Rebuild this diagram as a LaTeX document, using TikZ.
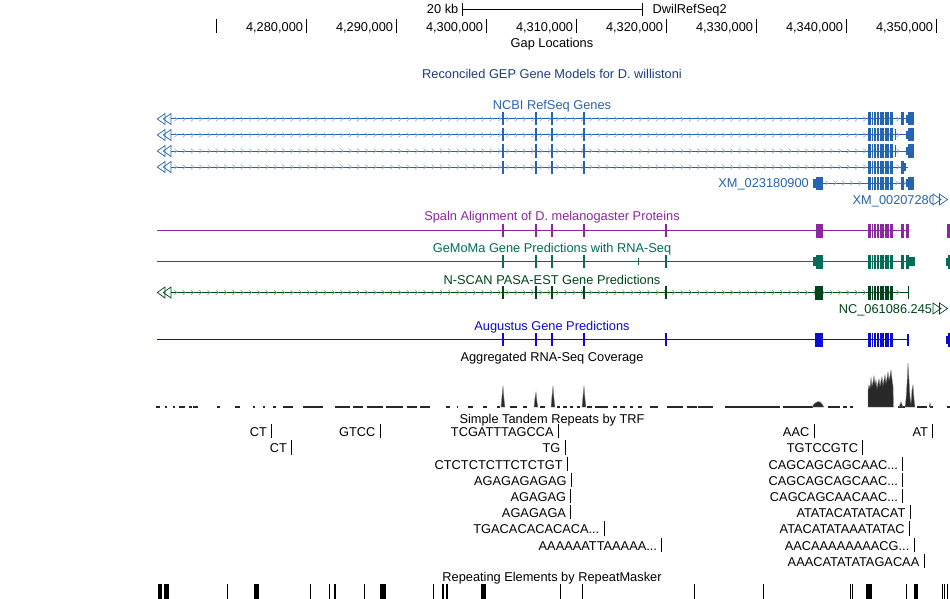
\documentclass[tikz,border=0pt]{standalone}
\usepackage{fontspec}
\setmainfont{Liberation Sans}
\definecolor{gepnavy}{RGB}{30,62,122}
\definecolor{ncbi}{RGB}{38,100,175}
\definecolor{ncbilt}{RGB}{135,172,222}
\definecolor{spaln}{RGB}{138,40,158}
\definecolor{gemoma}{RGB}{0,108,90}
\definecolor{nscan}{RGB}{0,68,28}
\definecolor{nscanlt}{RGB}{95,175,105}
\definecolor{augus}{RGB}{12,12,204}
\definecolor{covdark}{RGB}{40,40,40}
\definecolor{covlt}{RGB}{135,135,135}
\tikzset{
  lbl/.style={inner sep=0pt, font=\fontsize{12.8}{14}\selectfont},
  gline/.style={line width=1pt},
  chevron/.style={line width=0.6pt},
}
\newcommand\gepclus[3]{% y, half height, colour
  \foreach \a/\b in {867.5/870.5,871.5/873,874/875.5,876.5/879,880/884,885/888.5,889.5/893}{\fill[#3] (\a,#1-#2) rectangle (\b,#1+#2);}}
\newcommand\gepex[5]{% x1,x2,y,h,colour
  \fill[#5] (#1,#3-#4) rectangle (#2,#3+#4);}
\newcommand\gepchev[4]{% y, from, second, to
  \foreach \x in {#2,#3,...,#4}{\draw[chevron] (\x-1.6,#1-2.3) -- (\x+0.9,#1) -- (\x-1.6,#1+2.3);}}
\newcommand\gepltri[2]{% y, colour
  \draw[#2, line width=0.7pt] (157.3,#1) -- (165,#1-5.5) -- (165,#1+5.5) -- cycle;
  \draw[#2, line width=0.7pt] (163.3,#1) -- (171,#1-5.5) -- (171,#1+5.5) -- cycle;}
\newcommand\geprtri[2]{% y, colour
  \fill[white] (933,#1-5.5) -- (947.5,#1) -- (933,#1+5.5) -- cycle;
  \draw[#2, line width=0.7pt] (933,#1-5.5) -- (941,#1) -- (933,#1+5.5) -- cycle;
  \draw[#2, line width=0.7pt] (939.5,#1-5.5) -- (947.5,#1) -- (939.5,#1+5.5) -- cycle;}
\newcommand\geptrf[4]{% name, text, bar x, baseline
  \node[lbl, anchor=base east] (#1) at (#3-4.5,#4) {#2};
  \draw[line width=1pt] (#3,#4-12.5) -- (#3,#4+1.8);}
\begin{document}
\begin{tikzpicture}[x=1pt,y=-1pt]
\fill[white] (0,0) rectangle (950,599);
\useasboundingbox (0,0) rectangle (950,599);

% ---------- scale bar and ruler
\node[lbl, anchor=base east] (kb) at (458.5,14) {20 kb};
\coordinate (sbL) at (462.3,9.3);
\coordinate (sbR) at (642,9.3);
\draw[line width=1pt] (sbL) -- (sbR);
\draw[line width=1pt] (462.3,3) -- (462.3,16.5);
\draw[line width=1pt] (642,3) -- (642,16.5);
\node[lbl, anchor=base west] (asm) at (652.5,14) {DwilRefSeq2};
\foreach \i in {0,...,8}{\draw[line width=1pt] ({216.7+90*\i},19) -- ({216.7+90*\i},33.5);}
\node[lbl, anchor=base east] (r1) at (303.2,31.8) {4,280,000};
\node[lbl, anchor=base east] (r2) at (393.2,31.8) {4,290,000};
\node[lbl, anchor=base east] (r3) at (483.2,31.8) {4,300,000};
\node[lbl, anchor=base east] (r4) at (573.2,31.8) {4,310,000};
\node[lbl, anchor=base east] (r5) at (663.2,31.8) {4,320,000};
\node[lbl, anchor=base east] (r6) at (753.2,31.8) {4,330,000};
\node[lbl, anchor=base east] (r7) at (843.2,31.8) {4,340,000};
\node[lbl, anchor=base east] (r8) at (933.2,31.8) {4,350,000};
\node[lbl, anchor=base] (gap) at (552,47.5) {Gap Locations};

% ---------- titles
\node[lbl, anchor=base, text=gepnavy] (gep) at (552,78.5) {Reconciled GEP Gene Models for D. willistoni};
\node[lbl, anchor=base, text=ncbi] (ncbil) at (552,110) {NCBI RefSeq Genes};

% ---------- NCBI rows 1-4
\foreach \y in {119,135,151,167}{
  \draw[ncbi, gline] (171,\y) -- (907.5,\y);
  \begin{scope}[ncbilt]\gepchev{\y}{176}{184.3}{905}\end{scope}
  \gepltri{\y}{ncbi}
  \foreach \t in {503,536,552}{\gepex{\t-0.7}{\t+0.7}{\y}{6.5}{ncbi}}
  \gepex{583}{585}{\y}{6.5}{ncbi}
  \gepclus{\y}{6.5}{ncbi}
}
% row specific ends
\gepex{900.5}{903.5}{119}{6.5}{ncbi}
\gepex{906}{907.5}{119}{4}{ncbi}
\gepex{907.5}{914}{119}{6.5}{ncbi}
\foreach \y in {135,151}{
  \gepex{895.3}{896.3}{\y}{5.5}{ncbi}
  \gepex{906}{907.5}{\y}{4}{ncbi}
  \gepex{907.5}{914}{\y}{6.5}{ncbi}
}
\gepex{900.5}{903.5}{167}{6.5}{ncbi}
\gepex{903.5}{906}{167}{4}{ncbi}
% row 5
\draw[ncbi, gline] (822.5,183) -- (907.5,183);
\begin{scope}[ncbilt]\gepchev{183}{827}{835.3}{864}\gepchev{183}{897}{905}{905}\end{scope}
\gepex{813}{816}{183}{4.5}{ncbi}
\gepex{816}{822.5}{183}{6.5}{ncbi}
\gepclus{183}{6.5}{ncbi}
\gepex{900.5}{903.5}{183}{6.5}{ncbi}
\gepex{906}{907.5}{183}{4}{ncbi}
\gepex{907.5}{914}{183}{6.5}{ncbi}
\node[lbl, anchor=base east, text=ncbi] (xm1) at (809,187.6) {XM\_023180900};
\node[lbl, anchor=base west, text=ncbi] (xm2) at (852.5,204) {XM\_00207280};
\geprtri{199.5}{ncbi}

% ---------- Spaln
\node[lbl, anchor=base, text=spaln] (spl) at (552,220.5) {Spaln Alignment of D. melanogaster Proteins};
\draw[spaln, gline] (157,230.5) -- (908,230.5);
\foreach \t in {503,536,552,584,666}{\gepex{\t-0.7}{\t+0.7}{230.5}{6.5}{spaln}}
\gepex{816}{822.7}{230.5}{7}{spaln}
\gepclus{230.5}{7}{spaln}
\gepex{900.5}{903.5}{230.5}{7}{spaln}
\gepex{906}{908.5}{230.5}{7}{spaln}
\gepex{946.5}{950}{230.5}{7}{spaln}

% ---------- GeMoMa
\node[lbl, anchor=base, text=gemoma] (gmm) at (552,252) {GeMoMa Gene Predictions with RNA-Seq};
\draw[gemoma, gline] (157,261.5) -- (908,261.5);
\foreach \t in {503,536,552,584,666}{\gepex{\t-0.7}{\t+0.7}{261.5}{6.5}{gemoma}}
\gepex{637.5}{638.7}{261.5}{3.5}{gemoma}
\gepex{812.5}{816}{261.5}{4.5}{gemoma}
\gepex{816}{822.7}{261.5}{7}{gemoma}
\gepclus{261.5}{7}{gemoma}
\gepex{900.5}{903.5}{261.5}{7}{gemoma}
\gepex{906}{908.5}{261.5}{7}{gemoma}
\gepex{908.5}{915}{261.5}{4.5}{gemoma}
\gepex{946}{947.5}{261.5}{4}{gemoma}
\gepex{947.5}{950}{261.5}{7}{gemoma}

% ---------- N-SCAN
\node[lbl, anchor=base, text=nscan] (nsc) at (552,284) {N-SCAN PASA-EST Gene Predictions};
\draw[nscan, gline] (171,292.5) -- (908.5,292.5);
\begin{scope}[nscanlt]\gepchev{292.5}{176}{184.3}{905}\end{scope}
\gepltri{292.5}{nscan}
\foreach \t in {503,536,552,584,666}{\gepex{\t-0.7}{\t+0.7}{292.5}{6.5}{nscan}}
\gepex{815}{822.7}{292.5}{7}{nscan}
\gepclus{292.5}{7}{nscan}
\gepex{907.6}{908.8}{292.5}{6.5}{nscan}
\node[lbl, anchor=base east, text=nscan] (ncl) at (932.3,313) {NC\_061086.245};
\geprtri{308.5}{nscan}

% ---------- Augustus
\node[lbl, anchor=base, text=augus] (aug) at (552,330.5) {Augustus Gene Predictions};
\draw[augus, gline] (157,339.5) -- (908,339.5);
\foreach \t in {503,536,552,584,666}{\gepex{\t-0.7}{\t+0.7}{339.5}{6.5}{augus}}
\gepex{815}{822.7}{339.5}{7}{augus}
\gepclus{339.5}{7}{augus}
\gepex{907.3}{909.3}{339.5}{6}{augus}
\gepex{946}{947.5}{339.5}{4}{augus}
\gepex{947.5}{950}{339.5}{7}{augus}

% ---------- RNA-Seq coverage
\node[lbl, anchor=base] (cov) at (552,361.5) {Aggregated RNA-Seq Coverage};
\foreach \a/\b in {156/160,165/167,173/175,179/185,189/192,193/198,217/220,235/240,253/255,263/265,273/276,283/293,303/323,335/350,353/363,367/383,386/403,407/417,420/430,446/450,457/458,468/473,483/487,497/500,510/517,523/527,540/545,557/560,563/567,570/573,577/580,587/592,595/608,613/617,620/625,630/633,638/642,650/658,667/683,687/697,698/713,725/780,783/813,828/840,843/847,850/853,898/905,917/927,930/933,947/950}{\fill[covdark] (\a,406) rectangle (\b,408);}
\foreach \p in {503,553,584}{\fill[covdark,draw=covlt,line width=0.4pt] (\p-2,407) -- (\p-1,396) -- (\p,386) -- (\p+1,399) -- (\p+2,407) -- cycle;}
\fill[covdark,draw=covlt,line width=0.4pt] (534,407) -- (535,398) -- (536,392) -- (537,402) -- (538,407) -- cycle;
\fill[covdark,draw=covlt,line width=0.4pt] (812,407) -- (814,404) -- (816,402.5) -- (818,401.5) -- (820,402) -- (822,404) -- (824,407) -- cycle;
\fill[covdark,draw=covlt,line width=0.4pt] (868,407) -- (868,390) -- (869,385) -- (870,388) -- (871,378) -- (872,386) -- (873,382) -- (874,376) -- (875,384) -- (876,380) -- (877,388) -- (878,383) -- (879,379) -- (880,386) -- (881,381) -- (882,377) -- (883,385) -- (884,380) -- (885,375) -- (886,383) -- (887,378) -- (888,372) -- (889,380) -- (890,376) -- (891,370) -- (892,379) -- (893,386) -- (893.5,407) -- cycle;
\fill[covdark,draw=covlt,line width=0.4pt] (899,407) -- (901,402) -- (903,407) -- cycle;
\fill[covdark,draw=covlt,line width=0.4pt] (905,407) -- (906,399) -- (907,384) -- (908,363) -- (909,380) -- (910,397) -- (911,404) -- (912,390) -- (913,385) -- (914,399) -- (915,407) -- cycle;
\fill[covdark,draw=covlt,line width=0.4pt] (929,407) -- (930,403) -- (931,407) -- cycle;

% ---------- Simple tandem repeats
\node[lbl, anchor=base] (trfl) at (552,423.3) {Simple Tandem Repeats by TRF};
\geptrf{t1}{CT}{271.7}{436.5}
\geptrf{t2}{GTCC}{380}{436.5}
\geptrf{t3}{TCGATTTAGCCA}{558.3}{436.5}
\geptrf{t4}{AAC}{814}{436.5}
\geptrf{t5}{AT}{932.7}{436.5}
\geptrf{t6}{CT}{291.7}{452.7}
\geptrf{t7}{TG}{565}{452.7}
\geptrf{t8}{TGTCCGTC}{862.7}{452.7}
\geptrf{t9}{CTCTCTCTTCTCTGT}{567.3}{469}
\geptrf{t10}{CAGCAGCAGCAAC...}{902.7}{469}
\geptrf{t11}{AGAGAGAGAG}{571.2}{485.2}
\geptrf{t12}{CAGCAGCAGCAAC...}{902.7}{485.2}
\geptrf{t13}{AGAGAG}{570.7}{501.4}
\geptrf{t14}{CAGCAGCAACAAC...}{902.7}{501.4}
\geptrf{t15}{AGAGAGA}{570.7}{517.6}
\geptrf{t16}{ATATACATATACAT}{910}{517.6}
\geptrf{t17}{TGACACACACACA...}{604}{533.8}
\geptrf{t18}{ATACATATAAATATAC}{909.3}{533.8}
\geptrf{t19}{AAAAAATTAAAAA...}{661.7}{550}
\geptrf{t20}{AACAAAAAAAACG...}{914}{550}
\geptrf{t21}{AAACATATATAGACAA}{924}{566.2}

% ---------- RepeatMasker
\node[lbl, anchor=base] (rmsk) at (552,581.5) {Repeating Elements by RepeatMasker};
\foreach \a/\b in {158/161.5,164/169,226.5/227.5,253.5/258.5,310/311,329/330.3,333.5/335.5,363.5/364.5,379.5/386,433/434,441.5/443.5,445.5/447.5,480.5/485.5,559.5/560.5,581.5/582.5,694/695,762.5/763.5,849.5/850.5,852/853,865.5/871.5,905.5/906.5,913.5/918,941.5/942.5,944/945,946.5/947.5}{\fill[black] (\a,584) rectangle (\b,599);}
\end{tikzpicture}
\end{document}
